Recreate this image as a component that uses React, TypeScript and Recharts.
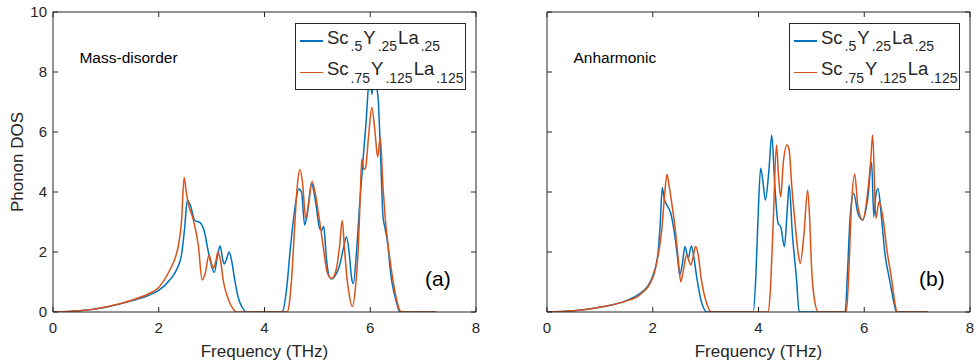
import React from 'react';
import { LineChart, Line, XAxis, YAxis, ReferenceDot, Legend, Label } from 'recharts';

const FONT = '"Liberation Sans", Arial, Helvetica, sans-serif';
const AX = '#262626';
const BLUE = '#0072BD';
const ORANGE = '#D95319';

const FREQ_TICKS = [0, 2, 4, 6, 8];
const DOS_TICKS = [0, 2, 4, 6, 8, 10];

const blueLegendParts = [['Sc', '.5'], ['Y', '.25'], ['La', '.25']];
const orangeLegendParts = [['Sc', '.75'], ['Y', '.125'], ['La', '.125']];
const blueName = 'Sc.5Y.25La.25';
const orangeName = 'Sc.75Y.125La.125';

// (a) Mass-disorder
const massBlueFreq = [0, 0.5, 1.0, 1.5, 1.8, 2.0, 2.2, 2.34, 2.43, 2.49, 2.54, 2.6, 2.68, 2.78, 2.86, 2.95, 3.05, 3.11, 3.16, 3.21, 3.24, 3.28, 3.33, 3.38, 3.43, 3.5, 3.58, 3.66, 4.3, 4.34, 4.42, 4.48, 4.57, 4.65, 4.7, 4.76, 4.82, 4.89, 4.94, 4.98, 5.04, 5.08, 5.12, 5.17, 5.22, 5.27, 5.35, 5.42, 5.49, 5.55, 5.6, 5.65, 5.68, 5.74, 5.8, 5.86, 5.92, 5.97, 6.0, 6.03, 6.07, 6.11, 6.15, 6.2, 6.24, 6.28, 6.32, 6.4, 6.5, 6.56, 7.25];
const massBlueDos = [0, 0.04, 0.16, 0.38, 0.55, 0.72, 1.05, 1.42, 1.9, 2.8, 3.72, 3.55, 3.05, 2.98, 2.7, 1.9, 1.32, 1.85, 2.2, 1.75, 1.6, 1.75, 2.0, 1.7, 1.15, 0.5, 0.15, 0, 0, 0.02, 0.8, 1.95, 3.4, 4.1, 4.0, 2.9, 3.4, 4.28, 3.95, 3.5, 2.8, 2.72, 2.85, 1.8, 1.2, 1.1, 1.25, 1.55, 2.1, 2.5, 2.0, 1.1, 0.95, 2.0, 3.6, 5.0, 6.3, 7.6, 7.9, 7.25, 7.9, 7.6, 7.1, 5.0, 3.2, 2.8, 2.4, 1.1, 0.3, 0, 0];

const massOrangeFreq = [0, 0.5, 1.0, 1.5, 1.8, 2.0, 2.21, 2.3, 2.37, 2.43, 2.48, 2.52, 2.56, 2.65, 2.75, 2.82, 2.88, 2.95, 3.0, 3.03, 3.08, 3.12, 3.17, 3.22, 3.31, 3.4, 3.47, 4.43, 4.47, 4.52, 4.57, 4.62, 4.67, 4.72, 4.78, 4.84, 4.9, 4.96, 5.02, 5.07, 5.11, 5.19, 5.27, 5.36, 5.42, 5.47, 5.51, 5.55, 5.6, 5.66, 5.72, 5.77, 5.81, 5.84, 5.88, 5.91, 5.97, 6.03, 6.09, 6.14, 6.19, 6.24, 6.28, 6.34, 6.44, 6.5, 6.56, 6.6, 7.25];
const massOrangeDos = [0, 0.04, 0.17, 0.4, 0.6, 0.82, 1.4, 1.75, 2.2, 3.0, 4.48, 4.0, 3.6, 3.1, 2.2, 1.07, 1.3, 1.9, 1.6, 1.46, 1.7, 2.0, 1.7, 1.05, 0.45, 0.12, 0, 0, 0.3, 1.3, 2.84, 4.2, 4.75, 4.3, 3.12, 3.7, 4.35, 3.95, 3.3, 2.7, 2.18, 1.3, 1.12, 1.45, 2.2, 3.05, 2.2, 1.3, 0.6, 0.18, 0.8, 2.0, 3.8, 5.1, 4.75, 4.8, 5.9, 6.82, 6.0, 5.17, 5.82, 4.2, 3.2, 2.2, 0.95, 0.4, 0.05, 0, 0];

// (b) Anharmonic
const anhBlueFreq = [0, 0.5, 1.0, 1.13, 1.5, 1.76, 1.9, 2.01, 2.1, 2.14, 2.18, 2.22, 2.25, 2.34, 2.42, 2.47, 2.51, 2.56, 2.61, 2.67, 2.73, 2.78, 2.83, 2.92, 2.97, 3.02, 3.9, 3.95, 3.99, 4.04, 4.08, 4.13, 4.2, 4.25, 4.31, 4.37, 4.42, 4.49, 4.54, 4.58, 4.64, 4.72, 4.77, 5.64, 5.68, 5.73, 5.8, 5.88, 5.97, 6.07, 6.14, 6.18, 6.22, 6.26, 6.33, 6.39, 6.48, 6.55, 6.61, 7.2];
const anhBlueDos = [0, 0.04, 0.16, 0.2, 0.38, 0.62, 0.85, 1.25, 1.96, 2.9, 4.14, 3.75, 3.62, 3.29, 2.51, 1.8, 1.23, 1.6, 2.18, 1.79, 2.2, 1.8, 1.18, 0.34, 0.1, 0, 0, 1.2, 3.07, 4.79, 4.4, 3.73, 4.8, 5.9, 4.18, 2.96, 2.84, 2.18, 3.3, 4.23, 2.62, 1.07, 0, 0, 1.2, 3.07, 3.96, 3.29, 3.07, 3.84, 4.98, 3.18, 3.9, 4.12, 3.07, 1.96, 1.07, 0.4, 0, 0];

const anhOrangeFreq = [0, 0.5, 1.0, 1.5, 1.76, 2.01, 2.07, 2.17, 2.22, 2.27, 2.31, 2.36, 2.42, 2.48, 2.53, 2.58, 2.64, 2.72, 2.77, 2.81, 2.86, 2.92, 3.02, 3.11, 4.18, 4.22, 4.28, 4.34, 4.38, 4.42, 4.47, 4.54, 4.58, 4.63, 4.69, 4.75, 4.79, 4.86, 4.93, 4.97, 5.0, 5.05, 5.13, 5.66, 5.7, 5.76, 5.82, 5.88, 5.97, 6.07, 6.12, 6.16, 6.22, 6.28, 6.36, 6.42, 6.52, 6.58, 6.62, 7.2];
const anhOrangeDos = [0, 0.04, 0.16, 0.37, 0.58, 1.18, 1.62, 2.73, 3.8, 4.59, 4.2, 3.62, 2.84, 1.8, 1.01, 1.4, 1.9, 1.57, 1.9, 2.18, 1.9, 1.07, 0.29, 0, 0, 0.6, 3.07, 5.57, 4.5, 3.84, 5.0, 5.57, 5.4, 4.18, 3.0, 1.96, 1.62, 2.6, 4.07, 3.0, 1.62, 0.51, 0, 0, 1.0, 3.62, 4.59, 3.51, 3.07, 4.07, 5.0, 5.9, 3.12, 3.68, 3.07, 2.18, 1.07, 0.29, 0, 0];

const toPoints = (f: number[], v: number[]) => f.map((x, i) => ({ f: x, dos: v[i] }));

const BottomTick = (props: any) => {
  const { x, y, payload } = props;
  return (
    <g>
      <line x1={x} x2={x} y1={y} y2={y - 5} stroke={AX} strokeWidth={1} />
      <text x={x} y={y + 21} textAnchor="middle" fontSize={15} fontFamily={FONT} fill={AX}>{payload.value}</text>
    </g>
  );
};
const TopTick = (props: any) => {
  const { x, y } = props;
  return <line x1={x} x2={x} y1={y} y2={y + 5} stroke={AX} strokeWidth={1} />;
};
const makeLeftTick = (showLabel: boolean) => (props: any) => {
  const { x, y, payload } = props;
  return (
    <g>
      <line x1={x} x2={x + 5} y1={y} y2={y} stroke={AX} strokeWidth={1} />
      {showLabel ? (
        <text x={x - 6} y={y + 5.3} textAnchor="end" fontSize={15} fontFamily={FONT} fill={AX}>{payload.value}</text>
      ) : null}
    </g>
  );
};
const RightTick = (props: any) => {
  const { x, y } = props;
  return <line x1={x} x2={x - 5} y1={y} y2={y} stroke={AX} strokeWidth={1} />;
};

const LegendRow = ({ parts, color, top }: { parts: string[][]; color: string; top: number }) => (
  <>
    <div style={{ position: 'absolute', left: 4, top: top + 11.3, width: 23, height: 1.6, background: color }} />
    <div style={{ position: 'absolute', left: 31, top, fontSize: 18.5, lineHeight: '18.5px', whiteSpace: 'nowrap', color: AX, fontFamily: FONT }}>
      {parts.map(([b, s]) => (
        <React.Fragment key={b}>
          {b}
          <span style={{ fontSize: 14, lineHeight: 0, position: 'relative', top: 7.4, marginLeft: 2, marginRight: 1 }}>{s}</span>
        </React.Fragment>
      ))}
    </div>
  </>
);

const renderLegend = () => (
  <div style={{ position: 'relative', width: 171, height: 67, boxSizing: 'border-box', border: `1px solid ${AX}`, background: '#fff' }}>
    <LegendRow parts={blueLegendParts} color={BLUE} top={4.7} />
    <LegendRow parts={orangeLegendParts} color={ORANGE} top={36.4} />
  </div>
);

type PanelProps = {
  title: string;
  tag: string;
  blue: { f: number; dos: number }[];
  orange: { f: number; dos: number }[];
  width: number;
  yAxisWidth: number;
  marginRight: number;
  showYLabels: boolean;
  legendLeft: number;
};

const Panel = ({ title, tag, blue, orange, width, yAxisWidth, marginRight, showYLabels, legendLeft }: PanelProps) => (
  <LineChart width={width} height={364} margin={{ top: 11, right: marginRight - 1, bottom: 0, left: 0 }}>
    <XAxis
      xAxisId="b"
      dataKey="f"
      type="number"
      domain={[0, 8]}
      ticks={FREQ_TICKS}
      height={52}
      tickSize={0}
      tickMargin={0}
      tickLine={false}
      axisLine={{ stroke: AX, strokeWidth: 1 }}
      tick={<BottomTick />}
      allowDataOverflow
    >
      <Label value="Frequency (THz)" position="insideBottom" offset={7} style={{ fontSize: 17, fontFamily: FONT, fill: AX }} />
    </XAxis>
    <XAxis
      xAxisId="t"
      orientation="top"
      dataKey="f"
      type="number"
      domain={[0, 8]}
      ticks={FREQ_TICKS}
      height={1}
      tickSize={0}
      tickMargin={0}
      tickLine={false}
      axisLine={{ stroke: AX, strokeWidth: 1 }}
      tick={<TopTick />}
      allowDataOverflow
    />
    <YAxis
      yAxisId="l"
      type="number"
      domain={[0, 10]}
      ticks={DOS_TICKS}
      width={yAxisWidth}
      tickSize={0}
      tickMargin={0}
      tickLine={false}
      axisLine={{ stroke: AX, strokeWidth: 1 }}
      tick={makeLeftTick(showYLabels)}
      allowDataOverflow
    >
      {showYLabels ? (
        <Label value="Phonon DOS" angle={-90} position="insideLeft" offset={17} style={{ fontSize: 17, fontFamily: FONT, fill: AX, textAnchor: 'middle' }} />
      ) : null}
    </YAxis>
    <YAxis
      yAxisId="r"
      orientation="right"
      type="number"
      domain={[0, 10]}
      ticks={DOS_TICKS}
      width={1}
      tickSize={0}
      tickMargin={0}
      tickLine={false}
      axisLine={{ stroke: AX, strokeWidth: 1 }}
      tick={<RightTick />}
      allowDataOverflow
    />
    <Line xAxisId="b" yAxisId="l" data={blue} dataKey="dos" name={blueName} type="monotone" stroke={BLUE} strokeWidth={1.5} dot={false} activeDot={false} isAnimationActive={false} />
    <Line xAxisId="t" yAxisId="r" data={orange} dataKey="dos" name={orangeName} type="monotone" stroke={ORANGE} strokeWidth={1.5} dot={false} activeDot={false} isAnimationActive={false} />
    <ReferenceDot xAxisId="b" yAxisId="l" x={0.5} y={8.5} r={0} stroke="none" fill="none"
      label={{ value: title, position: 'right', offset: 0, style: { fontSize: 15.5, fontFamily: FONT, fill: '#000' } }} />
    <ReferenceDot xAxisId="b" yAxisId="l" x={7.28} y={1.13} r={0} stroke="none" fill="none"
      label={{ value: tag, position: 'center', offset: 0, style: { fontSize: 21, fontFamily: FONT, fill: '#000' } }} />
    <Legend
      layout="vertical"
      align="center"
      verticalAlign="middle"
      content={renderLegend}
      wrapperStyle={{ left: legendLeft, top: 23, width: 171, height: 67 }}
    />
  </LineChart>
);

export default function App() {
  return (
    <div style={{ position: 'absolute', left: 0, top: 0, width: 977, height: 364, background: '#fff', fontFamily: FONT }}>
      <div style={{ position: 'absolute', left: 0, top: 0 }}>
        <Panel
          title="Mass-disorder"
          tag="(a)"
          blue={toPoints(massBlueFreq, massBlueDos)}
          orange={toPoints(massOrangeFreq, massOrangeDos)}
          width={490}
          yAxisWidth={53}
          marginRight={14}
          showYLabels
          legendLeft={295}
        />
      </div>
      <div style={{ position: 'absolute', left: 490, top: 0 }}>
        <Panel
          title="Anharmonic"
          tag="(b)"
          blue={toPoints(anhBlueFreq, anhBlueDos)}
          orange={toPoints(anhOrangeFreq, anhOrangeDos)}
          width={487}
          yAxisWidth={57}
          marginRight={7}
          showYLabels={false}
          legendLeft={299}
        />
      </div>
    </div>
  );
}
